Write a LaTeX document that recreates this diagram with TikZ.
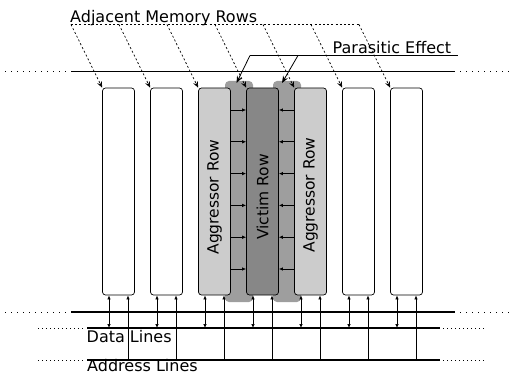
\documentclass[tikz,border=0pt]{standalone}
\usepackage{fontspec}
\setmainfont{DejaVu Sans}
\usetikzlibrary{arrows.meta}

\definecolor{aggrfill}{gray}{0.80}
\definecolor{victfill}{gray}{0.53}
\definecolor{tabfill}{gray}{0.62}

\begin{document}
\begin{tikzpicture}[x=1pt,y=-1pt,
  lbl/.style={font=\fontsize{16}{19}\selectfont, inner sep=0pt, anchor=base west},
  rowlbl/.style={font=\fontsize{15.5}{18}\selectfont, rotate=90, inner sep=0pt},
  memrow/.style={draw=black, line width=0.7pt, rounded corners=3pt,
                 minimum width=32pt, minimum height=207pt, inner sep=0pt},
  tabbox/.style={fill=tabfill, rounded corners=4pt,
                 minimum width=28pt, minimum height=221pt, inner sep=0pt},
  bus/.style={line width=1.2pt},
  busdots/.style={line width=1pt, dash pattern=on 1pt off 5pt},
  subdots/.style={line width=0.9pt, dash pattern=on 1pt off 3pt},
  wire/.style={line width=0.7pt},
  tip/.style={-{Latex[length=4pt,width=3.5pt]}},
  twotip/.style={{Latex[length=4pt,width=3.5pt]}-{Latex[length=4pt,width=3.5pt]}},
  pointer/.style={line width=0.7pt, dash pattern=on 2pt off 2.2pt,
                  -{Stealth[length=6pt,width=5pt]}},
  effect/.style={line width=0.8pt, -{Stealth[length=7pt,width=5.5pt]}}
]
\useasboundingbox (0,0) rectangle (511,374);

% coupling zones between the aggressor rows and the victim row
\node[tabbox] (tabA) at (239,191.5) {};
\node[tabbox] (tabB) at (287,191.5) {};

% memory rows
\foreach \k in {0,...,6} {
  \pgfmathsetmacro{\cx}{118.5+48*\k}
  \coordinate (rc\k) at (\cx,191.5);
}
\node[memrow, fill=white]    (r0) at (rc0) {};
\node[memrow, fill=white]    (r1) at (rc1) {};
\node[memrow, fill=aggrfill] (r2) at (rc2) {};
\node[memrow, fill=victfill] (r3) at (rc3) {};
\node[memrow, fill=aggrfill] (r4) at (rc4) {};
\node[memrow, fill=white]    (r5) at (rc5) {};
\node[memrow, fill=white]    (r6) at (rc6) {};

\node[rowlbl] (lag1) at (214.5,197) {Aggressor Row};
\node[rowlbl] (lvic) at (262.5,197) {Victim Row};
\node[rowlbl] (lag2) at (310.5,195) {Aggressor Row};

% disturbance from both aggressors onto the victim
\foreach \j in {0,...,5} {
  \pgfmathsetmacro{\hy}{110+31.8*\j}
  \coordinate (h\j) at (0,\hy);
  \draw[wire, tip] (r2.east |- h\j) -- (r3.west |- h\j);
  \draw[wire, tip] (r4.west |- h\j) -- (r3.east |- h\j);
}

% word line bus above the rows
\coordinate (topDL) at (5,71.5);
\coordinate (topL)  at (71,71.5);
\coordinate (topR)  at (455,71.5);
\coordinate (topDR) at (511,71.5);
\draw[bus] (topL) -- (topR);
\draw[busdots] (topDL) -- ([xshift=-4pt]topL);
\draw[busdots] ([xshift=5pt]topR) -- (topDR);

% buses below the rows
\coordinate (lowDL) at (5,312);
\coordinate (lowL)  at (71,312);
\coordinate (lowR)  at (455,312);
\coordinate (lowDR) at (511,312);
\draw[bus] (lowL) -- (lowR);
\draw[busdots] (lowDL) -- ([xshift=-4pt]lowL);
\draw[busdots] ([xshift=5pt]lowR) -- (lowDR);

\coordinate (datDL) at (38,328);
\coordinate (datL)  at (87,328);
\coordinate (datR)  at (440,328);
\coordinate (datDR) at (486,328);
\draw[bus] (datL) -- (datR);
\draw[subdots] (datDL) -- ([xshift=-2pt]datL);
\draw[subdots] ([xshift=3pt]datR) -- (datDR);

\coordinate (adrDL) at (38,360);
\coordinate (adrL)  at (87,360);
\coordinate (adrR)  at (440,360);
\coordinate (adrDR) at (486,360);
\draw[bus] (adrL) -- (adrR);
\draw[subdots] (adrDL) -- ([xshift=-2pt]adrL);
\draw[subdots] ([xshift=3pt]adrR) -- (adrDR);

% data and address connections of every row
\foreach \k in {0,...,6} {
  \coordinate (d\k) at ([xshift=-9.5pt]rc\k |- datL);
  \coordinate (a\k) at ([xshift=9.5pt]rc\k |- adrL);
  \draw[wire, twotip] (r\k.south -| d\k) -- (d\k);
  \draw[wire, tip] (a\k) -- (a\k |- r\k.south);
}

\node[lbl] (ldata) at (86.5,342) {Data Lines};
\node[lbl] (laddr) at (87,371.5) {Address Lines};

% adjacent memory rows callout
\node[lbl] (ladj) at (70,22.5) {Adjacent Memory Rows};
\coordinate (adjL) at (71,24.5);
\coordinate (adjR) at (359,24.5);
\draw[line width=0.7pt, dash pattern=on 2pt off 2.2pt] (adjL) -- (adjR);
\foreach \k in {0,...,6} {
  \pgfmathsetmacro{\ux}{71+48*\k}
  \coordinate (u\k) at (\ux,24.5);
  \draw[pointer] (u\k) -- (r\k.north west);
}

% parasitic effect callout
\node[lbl] (lpar) at (332.5,53.5) {Parasitic Effect};
\coordinate (parA) at (250,55.5);
\coordinate (parB) at (298,55.5);
\coordinate (parR) at (458,55.5);
\coordinate (tipA) at (236.5,83);
\coordinate (tipB) at (282,83);
\draw[line width=0.8pt] (parA) -- (parR);
\draw[effect] (parA) -- (tipA);
\draw[effect] (parB) -- (tipB);
\end{tikzpicture}
\end{document}
